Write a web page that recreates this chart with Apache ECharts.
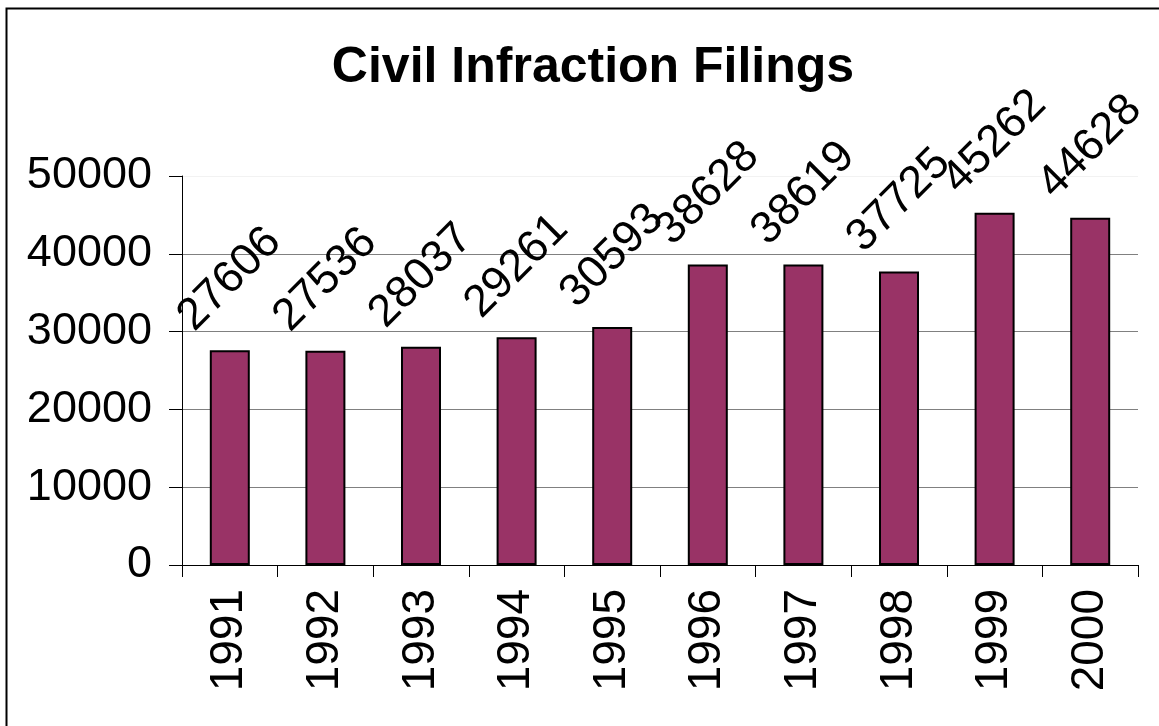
<!DOCTYPE html>
<html>
<head>
<meta charset="utf-8">
<script src="https://cdn.jsdelivr.net/npm/echarts@6/dist/echarts.min.js"></script>
<style>html,body{margin:0;padding:0;background:#fff;}#c{width:1159px;height:726px;}</style>
</head>
<body>
<div id="c"></div>
<script>
const categories = ['1991','1992','1993','1994','1995','1996','1997','1998','1999','2000'];
const filings = [27606, 27536, 28037, 29261, 30593, 38628, 38619, 37725, 45262, 44628];
const chartTitle = 'Civil Infraction Filings';

const FONT = '"Liberation Sans", Arial, sans-serif';
const chart = echarts.init(document.getElementById('c'), null, {renderer: 'canvas'});
chart.setOption({
  animation: false,
  backgroundColor: '#fff',
  graphic: [{
    type: 'rect', left: 4, top: 6, shape: {width: 1300, height: 900},
    style: {fill: 'none', stroke: '#000', lineWidth: 2}, silent: true, z: -1
  }],
  title: {
    text: chartTitle, left: 588, top: 38, textAlign: 'center',
    textStyle: {fontFamily: FONT, fontSize: 50, fontWeight: 'bold', color: '#000'}
  },
  grid: {left: 182, right: 21, top: 176, bottom: 161, containLabel: false},
  xAxis: {
    type: 'category', data: categories,
    axisLine: {lineStyle: {color: '#000', width: 1}},
    axisTick: {show: true, length: 12, lineStyle: {color: '#000'}},
    axisLabel: {rotate: 90, margin: 24, color: '#000', fontFamily: FONT, fontSize: 46}
  },
  yAxis: {
    type: 'value', min: 0, max: 50000, interval: 10000,
    axisLine: {show: true, lineStyle: {color: '#000', width: 1}},
    axisTick: {show: true, length: 13, lineStyle: {color: '#000'}},
    axisLabel: {margin: 30, color: '#000', fontFamily: FONT, fontSize: 45, formatter: v => String(v)},
    splitLine: {show: true, lineStyle: {color: ['#808080','#808080','#808080','#808080','#808080','#f2f2f2'], width: 1}}
  },
  series: [{
    type: 'bar', data: filings, barWidth: 40,
    itemStyle: {color: '#993366', borderColor: '#000', borderWidth: 2},
    label: {
      show: true, position: 'top', distance: 71, rotate: 45,
      align: 'center', verticalAlign: 'middle',
      color: '#000', fontFamily: FONT, fontSize: 45
    }
  }]
});
</script>
</body>
</html>
